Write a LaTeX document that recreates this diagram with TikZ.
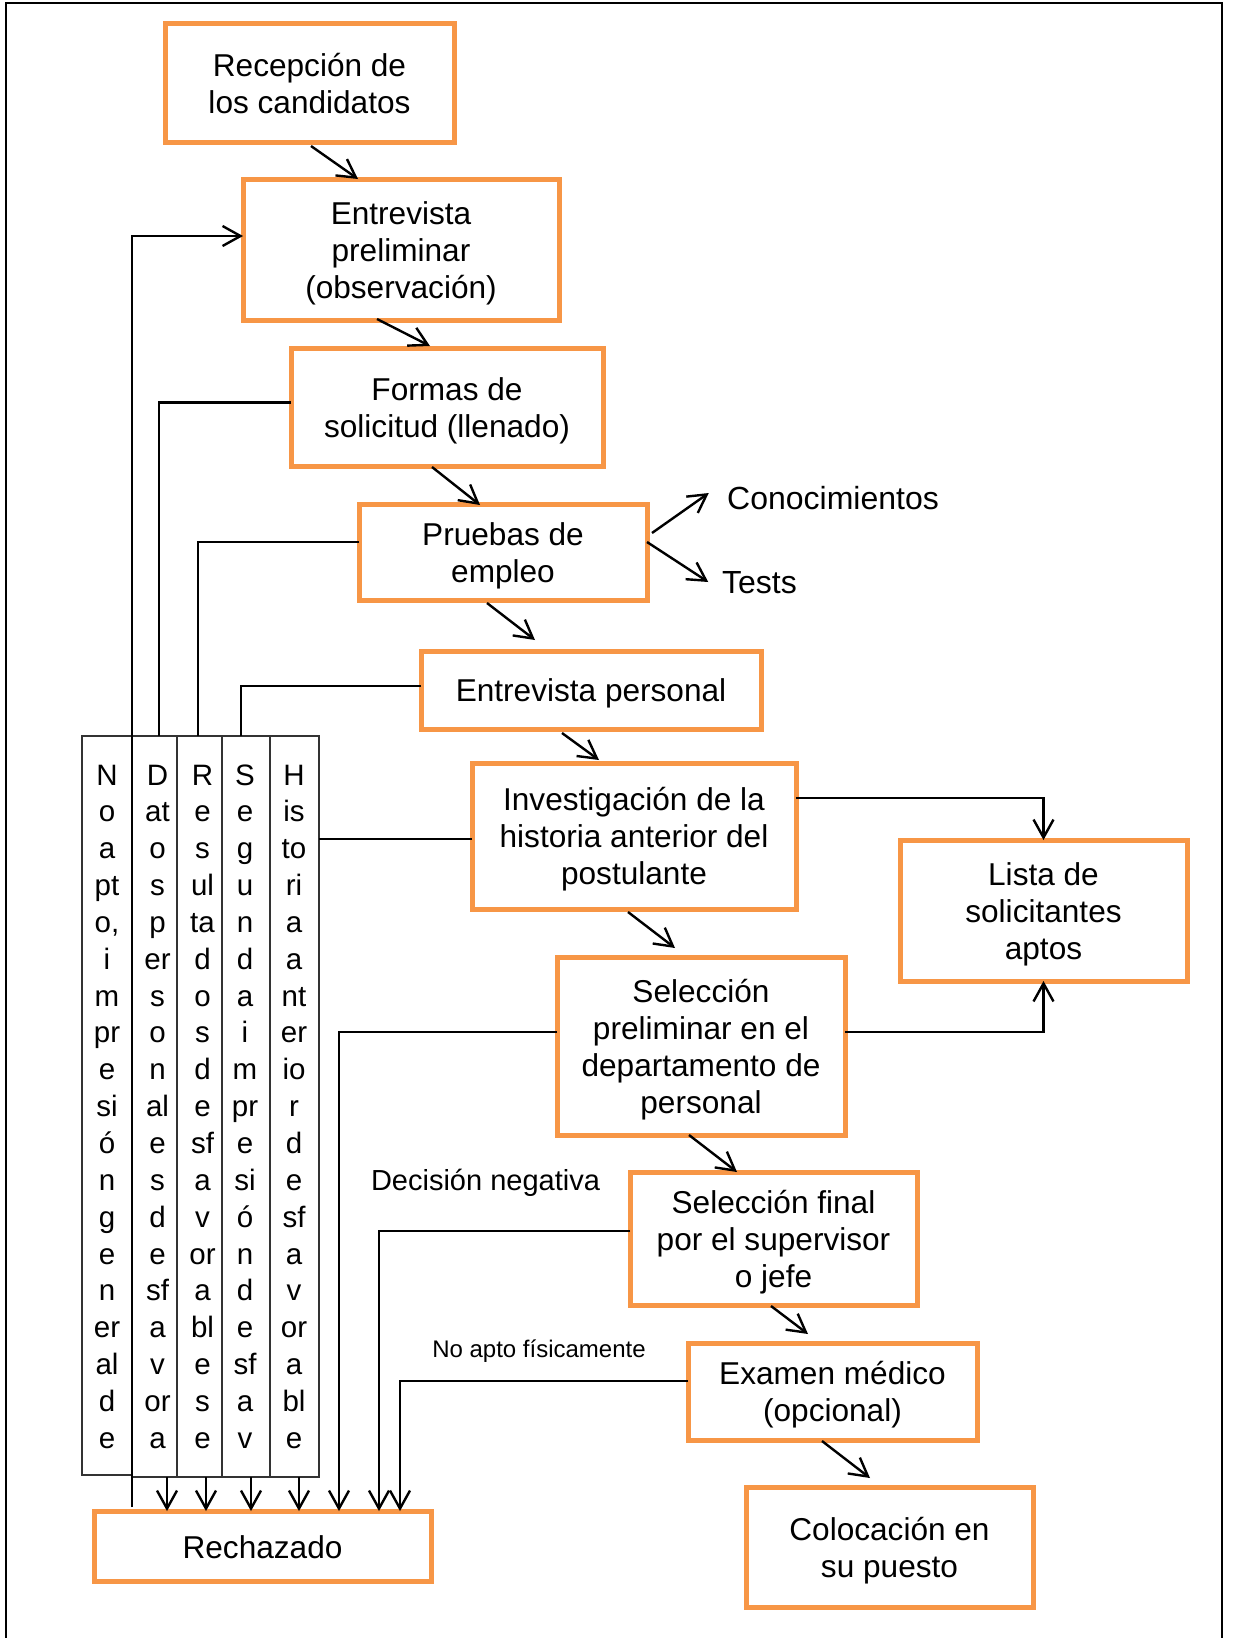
\documentclass[tikz,border=0pt]{standalone}
\usepackage{fontspec}
\setmainfont{Liberation Sans}
\usetikzlibrary{arrows.meta,calc}
\definecolor{boxorange}{RGB}{247,150,70}

\begin{document}
\begin{tikzpicture}[x=0.5pt,y=-0.5pt,
  box/.style={draw=boxorange, line width=2.5pt, inner sep=0pt, outer sep=0pt},
  boxtext/.style={align=center, inner sep=0pt, yshift=-1.8pt,
              font=\fontsize{15.8pt}{18.5pt}\selectfont},
  link/.style={line width=1.2pt, draw=black},
  arr/.style={link, -{Straight Barb[length=9pt,width=10pt]}},
  col/.style={draw=black!80, line width=0.7pt, inner sep=0pt, outer sep=0pt},
  coltext/.style={anchor=base, inner sep=0pt, font=\fontsize{14.75pt}{17pt}\selectfont},
  lbl/.style={anchor=base, inner sep=0pt, font=\fontsize{16pt}{19pt}\selectfont},
]
\useasboundingbox (0,0) rectangle (1232,1638);

% outer frame (open at the bottom)
\draw[line width=1pt] (6,1638) -- (6,3) -- (1222,3) -- (1222,1638);

% process boxes
\node[box, minimum width=144.5pt, minimum height=59.5pt,
      label={[boxtext, name=rec-t, yshift=1.4pt]center:{Recepción de\\los candidatos}}] (rec) at (309.5,82.5) {};
\node[box, minimum width=158pt, minimum height=70.5pt,
      label={[boxtext, name=ep-t]center:{Entrevista\\preliminar\\(observación)}}] (ep) at (401,249.5) {};
\node[box, minimum width=156pt, minimum height=59pt,
      label={[boxtext, name=form-t]center:{Formas de\\solicitud (llenado)}}] (form) at (447,407) {};
\node[box, minimum width=144pt, minimum height=48pt,
      label={[boxtext, name=prue-t]center:{Pruebas de\\empleo}}] (prue) at (503,552) {};
\node[box, minimum width=170pt, minimum height=39pt,
      label={[boxtext, name=epers-t]center:{Entrevista personal}}] (epers) at (591,690) {};
\node[box, minimum width=162pt, minimum height=73pt,
      label={[boxtext, name=inv-t]center:{Investigación de la\\historia anterior del\\postulante}}] (inv) at (634,836) {};
\node[box, minimum width=143.5pt, minimum height=70.5pt,
      label={[boxtext, name=lista-t]center:{Lista de\\solicitantes\\aptos}}] (lista) at (1043.5,910.5) {};
\node[box, minimum width=144pt, minimum height=89pt,
      label={[boxtext, name=selp-t]center:{Selección\\preliminar en el\\departamento de\\personal}}] (selp) at (701,1046) {};
\node[box, minimum width=143.5pt, minimum height=66.5pt,
      label={[boxtext, name=self-t]center:{Selección final\\por el supervisor\\o jefe}}] (self) at (773.5,1238.5) {};
\node[box, minimum width=144.5pt, minimum height=48.5pt,
      label={[boxtext, name=exam-t]center:{Examen médico\\(opcional)}}] (exam) at (832.5,1391.5) {};
\node[box, minimum width=143.5pt, minimum height=60pt,
      label={[boxtext, name=coloc-t]center:{Colocación en\\su puesto}}] (coloc) at (889.5,1547) {};
\node[box, minimum width=168.5pt, minimum height=35pt,
      label={[boxtext, name=rech-t, yshift=1pt]center:{Rechazado}}] (rech) at (262.5,1546) {};

% side labels
\node[lbl] (conoc) at (833,509) {Conocimientos};
\node[lbl] (tests) at (759.5,593) {Tests};
\node[lbl, font=\fontsize{14.5pt}{17pt}\selectfont] (decneg) at (485.5,1190) {Decisión negativa};
\node[lbl, font=\fontsize{12pt}{14pt}\selectfont] (noapto) at (539,1357) {No apto físicamente};

% narrow columns of rejection reasons
\node[col, minimum width=25pt,   minimum height=369.5pt] (colN) at (107,1105.5) {};
\node[col, minimum width=22.5pt, minimum height=370.5pt] (colD) at (154.5,1106.5) {};
\node[col, minimum width=22.5pt, minimum height=370.5pt] (colR) at (199.5,1106.5) {};
\node[col, minimum width=24pt,   minimum height=370.5pt] (colS) at (246,1106.5) {};
\node[col, minimum width=24.5pt, minimum height=370.5pt] (colH) at (294.5,1106.5) {};

\foreach \t [count=\i from 0] in {N,o,a,pt,{o,},i,m,pr,e,si,ó,n,g,e,n,er,al,d,e}
  \node[coltext] (tN-\i) at (107,785+\i*36.85) {\t};
\foreach \t [count=\i from 0] in {D,at,o,s,p,er,s,o,n,al,e,s,d,e,sf,a,v,or,a}
  \node[coltext] (tD-\i) at (157.5,785+\i*36.85) {\t};
\foreach \t [count=\i from 0] in {R,e,s,ul,ta,d,o,s,d,e,sf,a,v,or,a,bl,e,s,e}
  \node[coltext] (tR-\i) at (202.5,785+\i*36.85) {\t};
\foreach \t [count=\i from 0] in {S,e,g,u,n,d,a,i,m,pr,e,si,ó,n,d,e,sf,a,v}
  \node[coltext] (tS-\i) at (245,785+\i*36.85) {\t};
\foreach \t [count=\i from 0] in {H,is,to,ri,a,a,nt,er,io,r,d,e,sf,a,v,or,a,bl,e}
  \node[coltext] (tH-\i) at (294,785+\i*36.85) {\t};

% main flow
\draw[arr] ($(rec.south)+(1.5,4)$)    -- ($(ep.north)+(-43,0)$);
\draw[arr] ($(ep.south)+(-24,-1)$)    -- ($(form.north)+(-17,-2)$);
\draw[arr] ($(form.south)+(-15,1)$)   -- ($(prue.north)+(-23,1)$);
\draw[arr] ($(prue.south)+(-16,3)$)   -- ($(epers.north)+(-56,-11)$);
\draw[arr] ($(epers.south)+(-29,4)$)  -- ($(inv.north)+(-35,-3)$);
\draw[arr] ($(inv.south)+(-6,3)$)     -- ($(selp.north)+(-26,-9)$);
\draw[arr] ($(selp.south)+(-12,0)$)   -- ($(self.north)+(-36.5,0)$);
\draw[arr] ($(self.south)+(-2.5,1)$)  -- ($(exam.north)+(-24.5,-9)$);
\draw[arr] ($(exam.south)+(-10.5,1)$) -- ($(coloc.north)+(-19.5,-9)$);

% kinds of tests
\draw[arr] ($(prue.east)+(5,-19)$) -- ($(conoc.base west)+(-18,-16)$);
\draw[arr] ($(prue.east)+(0,-10)$) -- ($(tests.base west)+(-13.5,-11)$);

% to the list of suitable applicants
\draw[arr] ($(inv.east)+(0,-38)$)  -| (lista.north);
\draw[arr] ($(selp.east)+(0,-14)$) -| (lista.south);

% rejection branches
\coordinate (r0) at (132,1507);
\draw[arr] (r0) |- ($(ep.west)+(0,-13.5)$);
\draw[link] ($(form.west)+(0,-4.5)$) -| ($(colD.north)+(4.5,0)$);
\draw[link] ($(prue.west)+(0,-10)$)  -| ($(colR.north)+(-1.5,0)$);
\draw[link] ($(epers.west)+(0,-4)$)  -| ($(colS.north)+(-5,0)$);
\draw[link] (inv.west) ++(0,3) coordinate (ih) -- (ih -| colH.east);

\draw[arr] (colD.south) ++(12.5,0) coordinate (qD) -- (qD |- rech.north);
\draw[arr] (colR.south) ++(6.5,0)  coordinate (qR) -- (qR |- rech.north);
\draw[arr] (colS.south) ++(5,0)    coordinate (qS) -- (qS |- rech.north);
\draw[arr] (colH.south) ++(4.5,0)  coordinate (qH) -- (qH |- rech.north);

\draw[arr] ($(selp.west)+(0,-14)$)  -| ($(rech.north)+(76.5,0)$);
\draw[arr] ($(self.west)+(0,-7.5)$) -| ($(rech.north)+(116.5,0)$);
\draw[arr] ($(exam.west)+(0,-10.5)$) -| ($(rech.north)+(137.5,0)$);
\end{tikzpicture}
\end{document}
